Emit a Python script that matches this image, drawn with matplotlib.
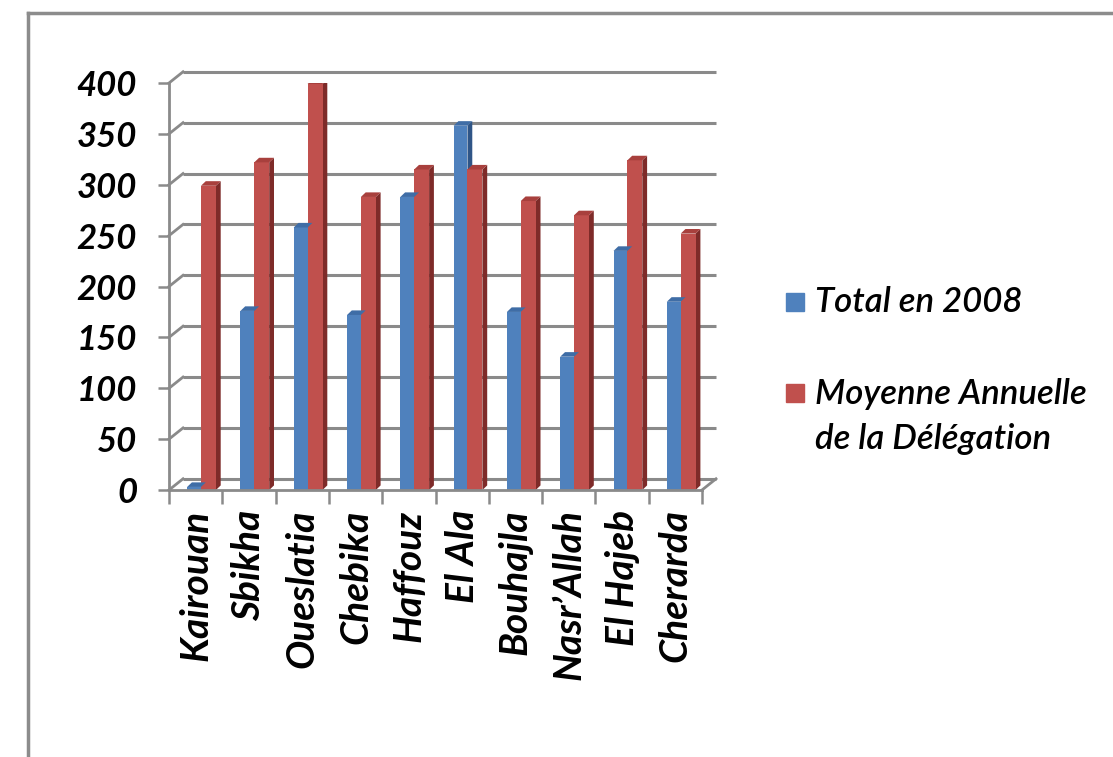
import matplotlib
matplotlib.use('Agg')
import matplotlib.pyplot as plt
from matplotlib.lines import Line2D
from matplotlib.patches import Rectangle
import numpy as np

categories = ['Kairouan', 'Sbikha', 'Oueslatia', 'Chebika', 'Haffouz',
              'El Ala', 'Bouhajla', 'Nasr\u2019Allah', 'El Hajeb', 'Cherarda']
total_2008 = [3, 176, 258, 172, 288, 358, 175, 131, 235, 185]
moyenne = [299, 322, 399, 288, 315, 315, 284, 270, 324, 252]
yticks = [0, 50, 100, 150, 200, 250, 300, 350, 400]
series_labels = ['Total en 2008', 'Moyenne Annuelle\nde la D\u00e9l\u00e9gation']

FONT = ['Lato', 'DejaVu Sans']
plt.rcParams['font.family'] = FONT

W, H = 1113, 757
fig = plt.figure(figsize=(W / 100, H / 100), dpi=100)
fig.patch.set_facecolor('white')

ax = fig.add_axes([169 / W, (H - 490) / H, 533 / W, 407 / H])
ax.set_xlim(-0.5, 9.5)
ax.set_ylim(0, 400)
ax.set_facecolor('none')

GRID = '#8a8a8a'
blue, blue_side, blue_top = '#4F81BD', '#2F5587', '#3F6DA6'
red, red_side, red_top = '#C0504D', '#7E2B29', '#A8403D'

# back wall offsets (3D look)
dxd, dyd = 0.263, 11.0
for v in yticks:
    ax.plot([-0.5 + dxd, 9.5 + dxd], [v + dyd, v + dyd], color=GRID, lw=2.2,
            clip_on=False, zorder=1, solid_capstyle='butt')
    ax.plot([-0.5, -0.5 + dxd], [v, v + dyd], color=GRID, lw=2.0,
            clip_on=False, zorder=1)
ax.plot([9.5, 9.5 + dxd], [0, dyd], color=GRID, lw=2.0, clip_on=False, zorder=1)

x = np.arange(len(categories))
dd, dv = 0.09, 4.5

def bars3d(xc, width, vals, front, side, top):
    ax.bar(xc, vals, width, color=front, zorder=3, linewidth=0)
    for xi, v in zip(xc, vals):
        x0, x1 = xi - width / 2, xi + width / 2
        ax.fill([x1, x1 + dd, x1 + dd, x1], [0, dv, v + dv, v],
                color=side, zorder=2.9, linewidth=0)
        ax.fill([x0, x0 + dd, x1 + dd, x1], [v, v + dv, v + dv, v],
                color=top, zorder=3.1, linewidth=0)

bars3d(x - 0.03, 0.26, total_2008, blue, blue_side, blue_top)
bars3d(x + 0.24, 0.28, moyenne, red, red_side, red_top)

for s in ['top', 'right']:
    ax.spines[s].set_visible(False)
for s in ['left', 'bottom']:
    ax.spines[s].set_color(GRID)
    ax.spines[s].set_linewidth(2.0)
    ax.spines[s].set_zorder(4)

ax.set_yticks(yticks)
ax.set_yticklabels([str(v) for v in yticks])
ax.tick_params(axis='y', length=8, width=1.8, color=GRID, pad=15)
for lab in ax.get_yticklabels():
    lab.set_fontsize(25)
    lab.set_fontweight('bold')
    lab.set_fontstyle('italic')

ax.set_xticks(x)
ax.set_xticklabels(categories, rotation=90, va='top', ha='center')
ax.set_xticks(np.arange(-0.5, 10, 1), minor=True)
ax.tick_params(axis='x', which='major', length=0, pad=14)
ax.tick_params(axis='x', which='minor', length=10, width=1.8, color=GRID)
for lab in ax.get_xticklabels():
    lab.set_fontsize(28)
    lab.set_fontweight('bold')
    lab.set_fontstyle('italic')

# legend (manual, handle aligned to first line)
fig.add_artist(Rectangle((786 / W, 1 - 311 / H), 18 / W, 18 / H,
                         transform=fig.transFigure, color=blue))
fig.add_artist(Rectangle((786 / W, 1 - 402 / H), 18 / W, 18 / H,
                         transform=fig.transFigure, color=red))
fig.text(815 / W, 1 - 302 / H, series_labels[0], va='center', ha='left',
         fontsize=25, fontstyle='italic', fontweight='semibold')
fig.text(815 / W, 1 - 416.5 / H, series_labels[1], va='center', ha='left',
         fontsize=25, fontstyle='italic', fontweight='semibold', linespacing=1.5)

# outer frame
fig.add_artist(Line2D([28 / W, 1], [1 - 13 / H, 1 - 13 / H],
                      transform=fig.transFigure, color='#8c8c8c', lw=2.5))
fig.add_artist(Line2D([28 / W, 28 / W], [1 - 13 / H, 0],
                      transform=fig.transFigure, color='#8c8c8c', lw=2.5))

fig.savefig('out.png', dpi=100)
